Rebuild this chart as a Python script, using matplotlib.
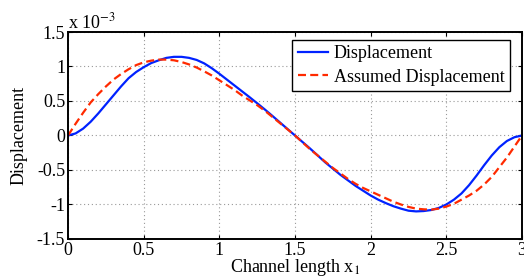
import matplotlib
matplotlib.use("Agg")
import matplotlib.pyplot as plt
from matplotlib.ticker import FormatStrFormatter

plt.rcParams['font.family'] = ['Liberation Serif', 'DejaVu Serif']
plt.rcParams['mathtext.fontset'] = 'stix'

x = [i * 0.05 for i in range(61)]

displacement = [
    0, 0.03, 0.10, 0.20, 0.32, 0.45, 0.58, 0.71, 0.83, 0.92,
    0.99, 1.05, 1.09, 1.125, 1.14, 1.14, 1.125, 1.095, 1.045, 0.975,
    0.895, 0.81, 0.725, 0.64, 0.555, 0.467, 0.378, 0.285, 0.19, 0.095,
    0, -0.095, -0.19, -0.29, -0.39, -0.48, -0.57, -0.65, -0.73, -0.80,
    -0.87, -0.93, -0.98, -1.025, -1.06, -1.09, -1.10, -1.095, -1.08, -1.05,
    -1.0, -0.93, -0.84, -0.72, -0.58, -0.43, -0.29, -0.17, -0.08, -0.025,
    0,
]

assumed = [
    0, 0.17, 0.33, 0.48, 0.60, 0.71, 0.81, 0.89, 0.96, 1.02,
    1.06, 1.085, 1.10, 1.10, 1.09, 1.065, 1.03, 0.985, 0.93, 0.87,
    0.80, 0.73, 0.66, 0.58, 0.51, 0.44, 0.36, 0.27, 0.18, 0.09,
    0, -0.10, -0.20, -0.29, -0.38, -0.47, -0.55, -0.63, -0.70, -0.76,
    -0.81, -0.86, -0.91, -0.96, -1.00, -1.035, -1.06, -1.07, -1.075, -1.06,
    -1.03, -0.99, -0.93, -0.87, -0.80, -0.71, -0.60, -0.46, -0.32, -0.16,
    0,
]

xticks = [0, 0.5, 1, 1.5, 2, 2.5, 3]
yticks = [-1.5, -1, -0.5, 0, 0.5, 1, 1.5]

fig = plt.figure(figsize=(5.24, 2.79), dpi=100)
ax = fig.add_axes([0.1298, 0.1434, 0.8664, 0.7419])

ax.plot(x, displacement, color='#0022ff', lw=1.6, label='Displacement')
ax.plot(x, assumed, color='#ff2a00', lw=1.6, ls=(0, (3.6, 1.9)), label='Assumed Displacement')

ax.set_xlim(0, 3)
ax.set_ylim(-1.5, 1.5)
ax.set_xticks(xticks)
ax.set_yticks(yticks)
ax.xaxis.set_major_formatter(FormatStrFormatter('%g'))
ax.yaxis.set_major_formatter(FormatStrFormatter('%g'))
ax.tick_params(direction='in', top=True, right=True, length=3, width=0.8,
               labelsize=13, pad=2)
for s in ax.spines.values():
    s.set_linewidth(1.4)
ax.grid(True, color='#999999', ls=(0, (1, 2.5)), lw=0.8)

ax.set_xlabel('Channel length x$_1$', fontsize=13, labelpad=-1)
ax.set_ylabel('Displacement', fontsize=13, labelpad=7)
ax.text(0.0, 1.0, 'x 10$^{-3}$', transform=ax.transAxes, fontsize=13,
        ha='left', va='bottom')

leg = ax.legend(loc='upper right', fontsize=13, frameon=True, fancybox=False,
                edgecolor='black', framealpha=1, handlelength=1.7,
                borderpad=0.3, labelspacing=0.35, handletextpad=0.3,
                borderaxespad=0, bbox_to_anchor=(510 / 524, 1 - 40 / 279),
                bbox_transform=fig.transFigure)
leg.get_frame().set_linewidth(1.0)

fig.savefig('out.png', dpi=100)
